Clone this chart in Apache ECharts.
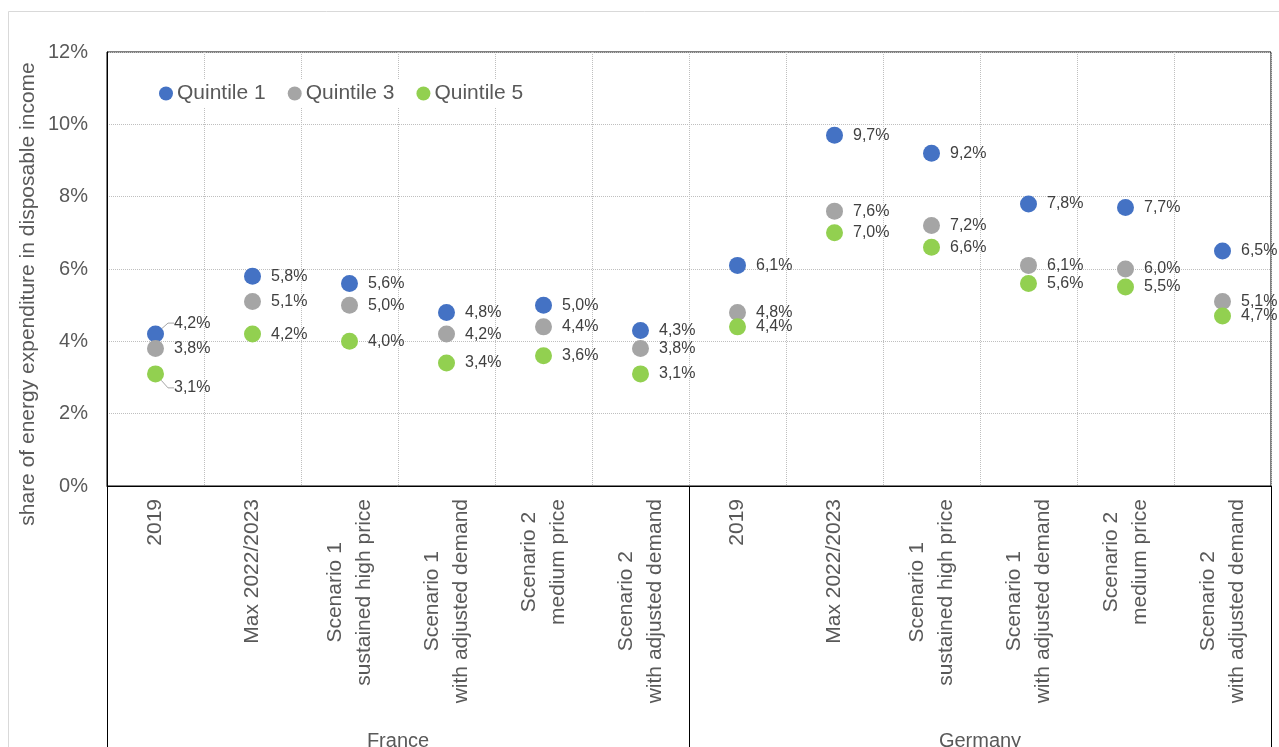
<!DOCTYPE html>
<html>
<head>
<meta charset="utf-8">
<script src="https://cdn.jsdelivr.net/npm/echarts@6/dist/echarts.min.js"></script>
<style>
html,body{margin:0;padding:0;background:#fff;}
#chart{width:1279px;height:747px;}
</style>
</head>
<body>
<div id="chart"></div>
<script>
const categories = [
  '2019', 'Max 2022/2023', 'Scenario 1\nsustained high price', 'Scenario 1\nwith adjusted demand',
  'Scenario 2\nmedium price', 'Scenario 2\nwith adjusted demand',
  '2019', 'Max 2022/2023', 'Scenario 1\nsustained high price', 'Scenario 1\nwith adjusted demand',
  'Scenario 2\nmedium price', 'Scenario 2\nwith adjusted demand'
];
const groups = ['France', 'Germany'];
const quintile1 = [4.2, 5.8, 5.6, 4.8, 5.0, 4.3, 6.1, 9.7, 9.2, 7.8, 7.7, 6.5];
const quintile3 = [3.8, 5.1, 5.0, 4.2, 4.4, 3.8, 4.8, 7.6, 7.2, 6.1, 6.0, 5.1];
const quintile5 = [3.1, 4.2, 4.0, 3.4, 3.6, 3.1, 4.4, 7.0, 6.6, 5.6, 5.5, 4.7];
const yTicks = [0, 2, 4, 6, 8, 10, 12];

const FONT = '"Liberation Sans", Arial, sans-serif';
const chart = echarts.init(document.getElementById('chart'));

function fmt(p) {
  const v = Array.isArray(p.value) ? p.value[1] : p.value;
  return v.toFixed(1).replace('.', ',') + '%';
}

function mkSeries(name, values, color, offsets) {
  const data = values.map(function (v, i) {
    return offsets[i] ? { value: v, labelLine: { show: true } } : v;
  });
  return {
    name: name,
    type: 'scatter',
    data: data,
    symbol: 'circle',
    symbolSize: 17,
    itemStyle: { color: color, opacity: 1 },
    label: {
      show: true, position: 'right', distance: 10, formatter: fmt,
      fontFamily: FONT, fontSize: 16, color: '#404040'
    },
    labelLine: { show: false, lineStyle: { color: '#a6a6a6', width: 1 }, length2: 6 },
    labelLayout: function (params) {
      const o = offsets[params.dataIndex];
      return o ? { dy: o } : {};
    },
    emphasis: { disabled: true },
    z: 5
  };
}

chart.setOption({
  animation: false,
  backgroundColor: '#fff',
  graphic: [
    { type: 'rect', shape: { x: 8.5, y: 11.5, width: 1400, height: 900 },
      style: { fill: 'none', stroke: '#d9d9d9', lineWidth: 1 }, z: -10 },
    { type: 'text', x: 28, y: 294, rotation: Math.PI / 2,
      style: { text: 'share of energy expenditure in disposable income', fill: '#595959',
        font: '21px ' + FONT, textAlign: 'center', textVerticalAlign: 'middle' } }
  ],
  legend: {
    left: 155, top: 80, padding: [3, 6, 3, 4],
    backgroundColor: '#fff',
    icon: 'circle', itemWidth: 14, itemHeight: 14, itemGap: 22,
    textStyle: { fontFamily: FONT, fontSize: 21, color: '#595959', padding: [0, 0, 0, -1] },
    data: ['Quintile 1', 'Quintile 3', 'Quintile 5'],
    z: 10
  },
  grid: {
    left: 107, top: 52, width: 1164, height: 434,
    containLabel: false, outerBoundsMode: 'none',
    show: true, borderColor: '#000', borderWidth: 1, backgroundColor: 'transparent'
  },
  xAxis: [{
    type: 'category', data: categories, boundaryGap: true,
    axisLine: { show: true, lineStyle: { color: '#000', width: 1 } },
    axisTick: { show: true, length: 270, interval: function (i) { return i % 6 === 0; },
      lineStyle: { color: '#000', width: 1 } },
    splitLine: { show: true, interval: 0, lineStyle: { color: '#bfbfbf', type: 'dotted', width: 1 } },
    axisLabel: {
      interval: 0, rotate: 90, margin: 13,
      formatter: function (v) { return v.split('\n').map(function (l) { return '{c|' + l + '}'; }).join('\n'); },
      rich: { c: { align: 'center', fontFamily: FONT, fontSize: 21, color: '#595959', lineHeight: 29 } }
    }
  }, {
    type: 'category', data: groups, position: 'bottom', gridIndex: 0,
    axisLine: { show: false }, axisTick: { show: false }, splitLine: { show: false },
    axisLabel: { margin: 245, fontFamily: FONT, fontSize: 20, color: '#595959' }
  }],
  yAxis: {
    type: 'value', min: 0, max: 12, interval: 2,
    axisLine: { show: true, lineStyle: { color: '#000' } },
    axisTick: { show: false },
    splitLine: { show: true, lineStyle: { color: '#bfbfbf', type: 'dotted', width: 1 } },
    axisLabel: { margin: 19, fontFamily: FONT, fontSize: 20, color: '#595959',
      formatter: function (v) { return yTicks.indexOf(v) >= 0 ? v + '%' : ''; } }
  },
  series: [
    mkSeries('Quintile 1', quintile1, '#4472C4', { 0: -11 }),
    mkSeries('Quintile 3', quintile3, '#A5A5A5', {}),
    mkSeries('Quintile 5', quintile5, '#92D050', { 0: 14 })
  ]
});
</script>
</body>
</html>
